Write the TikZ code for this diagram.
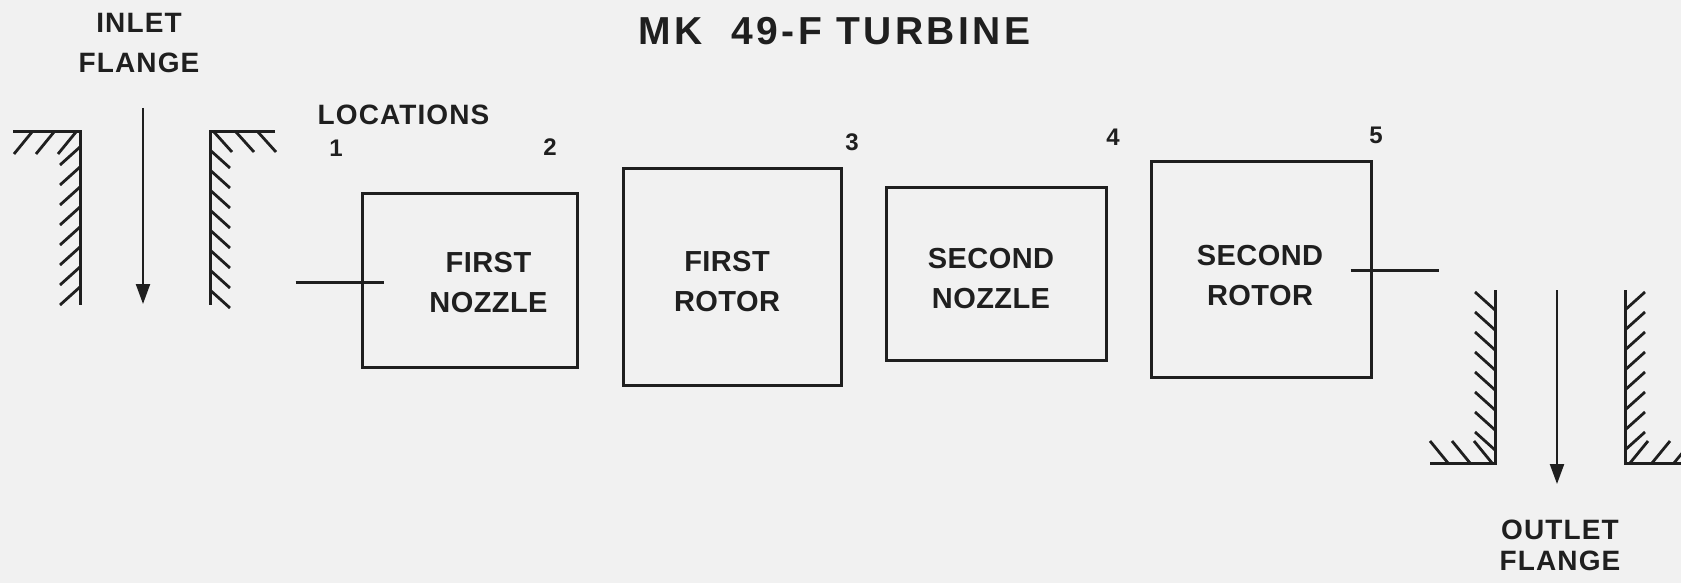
\documentclass[tikz,border=0pt]{standalone}
\usepackage{fontspec}
\setmainfont{Liberation Sans}
\newfontfamily\titlefont[LetterSpace=9]{Liberation Sans}
\newfontfamily\labelfont[LetterSpace=4]{Liberation Sans}
\newfontfamily\stagefont[LetterSpace=1.5]{Liberation Sans}
\usetikzlibrary{arrows.meta, positioning}
\definecolor{ink}{gray}{0.12}
\definecolor{paper}{gray}{0.945}
\tikzstyle{stage} = [rectangle, draw=ink, line width=1.5pt, inner sep=0pt]
\tikzstyle{stagetext} = [align=center, inner sep=0pt, text=ink, font=\stagefont\bfseries\fontsize{14.5}{20}\selectfont]
\tikzstyle{lbl} = [align=center, inner sep=0pt, text=ink, font=\labelfont\bfseries\fontsize{14}{20}\selectfont]
\tikzstyle{num} = [inner sep=0pt, text=ink, font=\labelfont\bfseries\fontsize{12}{14}\selectfont]
\tikzstyle{wall} = [draw=ink, line width=1.5pt]
\tikzstyle{hatch} = [draw=ink, line width=1.4pt]
\tikzstyle{flow} = [draw=ink, line width=1.1pt, -{Triangle[length=10pt, width=7pt]}]

\begin{document}
\begin{tikzpicture}[x=0.5pt, y=-0.5pt]
  \fill[paper] (0,0) rectangle (1681,583);
  \useasboundingbox (0,0) rectangle (1681,583);

  % title and labels
  \node[text=ink, inner sep=0pt, font=\titlefont\bfseries\fontsize{19.5}{24}\selectfont] (title) at (834.5,31) {MK\ \ 49-F TURBINE};
  \node[lbl] (inlet) at (139,43) {INLET\\FLANGE};
  \node[lbl, font=\labelfont\bfseries\fontsize{14}{15.5}\selectfont] (outlet) at (1560,545.5) {OUTLET\\FLANGE};
  \node[lbl] (locs) at (403.5,115) {LOCATIONS};

  % turbine stages
  \node[stage, minimum width=107.5pt, minimum height=87pt] (noz1) at (469.5,280) {};
  \node[stage, minimum width=109pt, minimum height=108.5pt, right=21.5pt of noz1, yshift=1.75pt] (rot1) {};
  \node[stage, minimum width=110pt, minimum height=86.5pt, right=21pt of rot1, yshift=1.5pt] (noz2) {};
  \node[stage, minimum width=110pt, minimum height=108pt, right=21pt of noz2, yshift=2.25pt] (rot2) {};

  \node[stagetext] (noz1txt) at ([shift={(9.5pt,-1.5pt)}]noz1.center) {FIRST\\NOZZLE};
  \node[stagetext] (rot1txt) at ([shift={(-2.5pt,-2.75pt)}]rot1.center) {FIRST\\ROTOR};
  \node[stagetext] (noz2txt) at ([shift={(-2.5pt,-2.75pt)}]noz2.center) {SECOND\\NOZZLE};
  \node[stagetext] (rot2txt) at ([shift={(-0.5pt,-3.5pt)}]rot2.center) {SECOND\\ROTOR};

  % location numbers
  \node[num] (loc1) at (336,148) {1};
  \node[num] (loc2) at (550,147) {2};
  \node[num] (loc3) at (852,142) {3};
  \node[num] (loc4) at (1113,137) {4};
  \node[num] (loc5) at (1376,135) {5};

  % station marks
  \draw[wall] ([shift={(-32.5pt,-1pt)}]noz1.west) -- ([shift={(11.5pt,-1pt)}]noz1.west);
  \draw[wall] ([shift={(-11pt,-0.5pt)}]rot2.east) -- ([shift={(33pt,-0.5pt)}]rot2.east);

  % inlet flange
  \draw[wall] (13,132) -- (80,132) -- (80,305);
  \foreach \x in {32,54,76} \draw[hatch] (\x,132) -- ++(-18,22);
  \foreach \y in {147,167,...,287} \draw[hatch] (80,\y) -- ++(-20,18);
  \draw[wall] (275,132) -- (210,132) -- (210,305);
  \foreach \x in {214,236,258} \draw[hatch] (\x,132) -- ++(18,20);
  \foreach \y in {150,170,...,290} \draw[hatch] (210,\y) -- ++(20,18);
  \coordinate (inA) at (143,108);
  \coordinate (inB) at (143,304);
  \draw[flow] (inA) -- (inB);

  % outlet flange
  \draw[wall] (1495,290) -- (1495,463) -- (1430,463);
  \foreach \y in {292,312,...,432} \draw[hatch] (1495,\y+18) -- ++(-20,-18);
  \foreach \x in {1448,1470,1492} \draw[hatch] (\x,463) -- ++(-18,-22);
  \draw[wall] (1625,290) -- (1625,463) -- (1681,463);
  \foreach \y in {292,312,...,432} \draw[hatch] (1625,\y+18) -- ++(20,-18);
  \foreach \x in {1630,1652,1674} \draw[hatch] (\x,463) -- ++(18,-22);
  \coordinate (outA) at (1557,290);
  \coordinate (outB) at (1557,484);
  \draw[flow] (outA) -- (outB);
\end{tikzpicture}
\end{document}
